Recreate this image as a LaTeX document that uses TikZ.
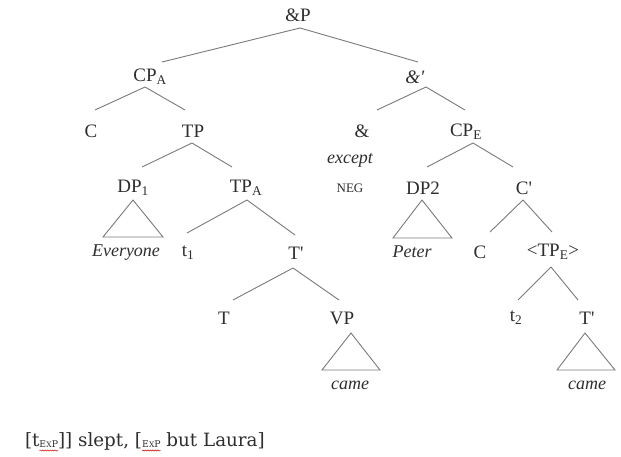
\documentclass[tikz,border=0pt]{standalone}
\usepackage{fontspec}
\setmainfont{Liberation Serif}
\newfontfamily\bottomfont{DejaVu Serif}
\usetikzlibrary{decorations.pathmorphing}
\definecolor{ink}{HTML}{2E2E2E}
\definecolor{edge}{HTML}{7A7A7A}
\newcommand{\pr}{\textquotesingle}
\newcommand{\exptag}{E\kern0.2pt{\fontsize{7.5}{8}\selectfont X}P}
\tikzset{
  lab/.style={inner sep=0pt, text=ink, font=\fontsize{19}{21}\selectfont},
  wrd/.style={inner sep=0pt, text=ink, font=\fontsize{18}{20}\selectfont\itshape},
  br/.style={draw=edge, line width=0.9pt},
  tri/.style={draw=edge, line width=0.9pt, line join=miter},
  bot/.style={inner sep=0pt, outer sep=0pt, anchor=base west, text=ink, font=\bottomfont\fontsize{18.3}{20}\selectfont},
  bsub/.style={inner sep=0pt, outer sep=0pt, anchor=base west, text=ink, font=\bottomfont\fontsize{9.3}{10}\selectfont},
  squig/.style={draw=red!80!black, line width=0.5pt, decorate, decoration={snake, amplitude=0.6pt, segment length=2.5pt}}
}
\begin{document}
\begin{tikzpicture}[x=1pt,y=-1pt]
\useasboundingbox[fill=white] (0,0) rectangle (621,457);
% labels
\node[lab] (andP) at (298,15) {\&P};
\node[lab] (cpa) at (150,77) {CP\textsubscript{A}};
\node[lab] (andbar) at (415,77) {\textit{\&\pr}};
\node[lab] (c1) at (91,131) {C};
\node[lab] (tp) at (193,131) {TP};
\node[lab] (amp) at (362,131) {\&};
\node[wrd] (except) at (350,160) {except};
\node[lab, font=\fontsize{13}{15}\selectfont] (neg) at (350,188) {NEG};
\node[lab] (cpe) at (466,132) {CP\textsubscript{E}};
\node[lab] (dp1) at (133,188) {DP\textsubscript{1}};
\node[lab] (tpa) at (246,188) {TP\textsubscript{A}};
\node[lab] (dp2) at (423,188) {DP2};
\node[lab] (cbar) at (524,188) {C\pr};
\node[wrd] (everyone) at (126,253) {Everyone};
\node[lab] (t1) at (188,253) {t\textsubscript{1}};
\node[lab] (tbar) at (296,253) {T\pr};
\node[wrd] (peter) at (412,252) {Peter};
\node[lab] (c2) at (480,252) {C};
\node[lab] (tpe) at (553,252) {<TP\textsubscript{E}>};
\node[lab] (t) at (224,318) {T};
\node[lab] (vp) at (342,318) {VP};
\node[lab] (t2) at (516,318) {t\textsubscript{2}};
\node[lab] (tbar2) at (587,318) {T\pr};
\node[wrd] (came1) at (350,385) {came};
\node[wrd] (came2) at (587,385) {came};
% branch anchor coordinates
\coordinate (andPb) at (300,28);
\coordinate (cpat) at (162,62);
\coordinate (andbart) at (418,62);
\coordinate (cpab) at (145,87);
\coordinate (c1t) at (95,110);
\coordinate (tpt) at (185,110);
\coordinate (andbarb) at (426,87);
\coordinate (ampt) at (377,110);
\coordinate (cpet) at (465,110);
\coordinate (tpb) at (192,143);
\coordinate (dp1t) at (142,167);
\coordinate (tpat) at (232,167);
\coordinate (cpeb) at (473,143);
\coordinate (dp2t) at (427,167);
\coordinate (cbart) at (513,167);
\coordinate (tpab) at (247,200);
\coordinate (t1t) at (187,233);
\coordinate (tbart) at (295,235);
\coordinate (cbarb) at (523,200);
\coordinate (c2t) at (490,232);
\coordinate (tpet) at (552,232);
\coordinate (tbarb) at (293,268);
\coordinate (tt) at (233,300);
\coordinate (vpt) at (339,300);
\coordinate (tpeb) at (551,267);
\coordinate (t2t) at (518,300);
\coordinate (tbar2t) at (578,300);
% branches
\draw[br] (andPb) -- (cpat);
\draw[br] (andPb) -- (andbart);
\draw[br] (cpab) -- (c1t);
\draw[br] (cpab) -- (tpt);
\draw[br] (andbarb) -- (ampt);
\draw[br] (andbarb) -- (cpet);
\draw[br] (tpb) -- (dp1t);
\draw[br] (tpb) -- (tpat);
\draw[br] (cpeb) -- (dp2t);
\draw[br] (cpeb) -- (cbart);
\draw[br] (tpab) -- (t1t);
\draw[br] (tpab) -- (tbart);
\draw[br] (cbarb) -- (c2t);
\draw[br] (cbarb) -- (tpet);
\draw[br] (tbarb) -- (tt);
\draw[br] (tbarb) -- (vpt);
\draw[br] (tpeb) -- (t2t);
\draw[br] (tpeb) -- (tbar2t);
% triangles
\draw[tri] (133,200) -- (103,237) -- (163,237) -- cycle;
\draw[tri] (422,200) -- (393,238) -- (452,238) -- cycle;
\draw[tri] (351,333) -- (322,370) -- (380,370) -- cycle;
\draw[tri] (585,333) -- (557,370) -- (615,370) -- cycle;
% bottom line
\node[bot] (b1) at (25,446) {[t};
\node[bsub] (s1) at ([yshift=-1.5pt]b1.base east) {\exptag};
\node[bot] (b2) at (s1.base east |- b1.base) {]] slept, [};
\node[bsub] (s2) at ([yshift=-1.5pt]b2.base east) {\exptag};
\node[bot] (b3) at (s2.base east |- b1.base) {\ but Laura]};
\draw[squig] ([yshift=-3pt]s1.base west) -- ([yshift=-3pt]s1.base east);
\draw[squig] ([yshift=-3pt]s2.base west) -- ([yshift=-3pt]s2.base east);
\end{tikzpicture}
\end{document}
